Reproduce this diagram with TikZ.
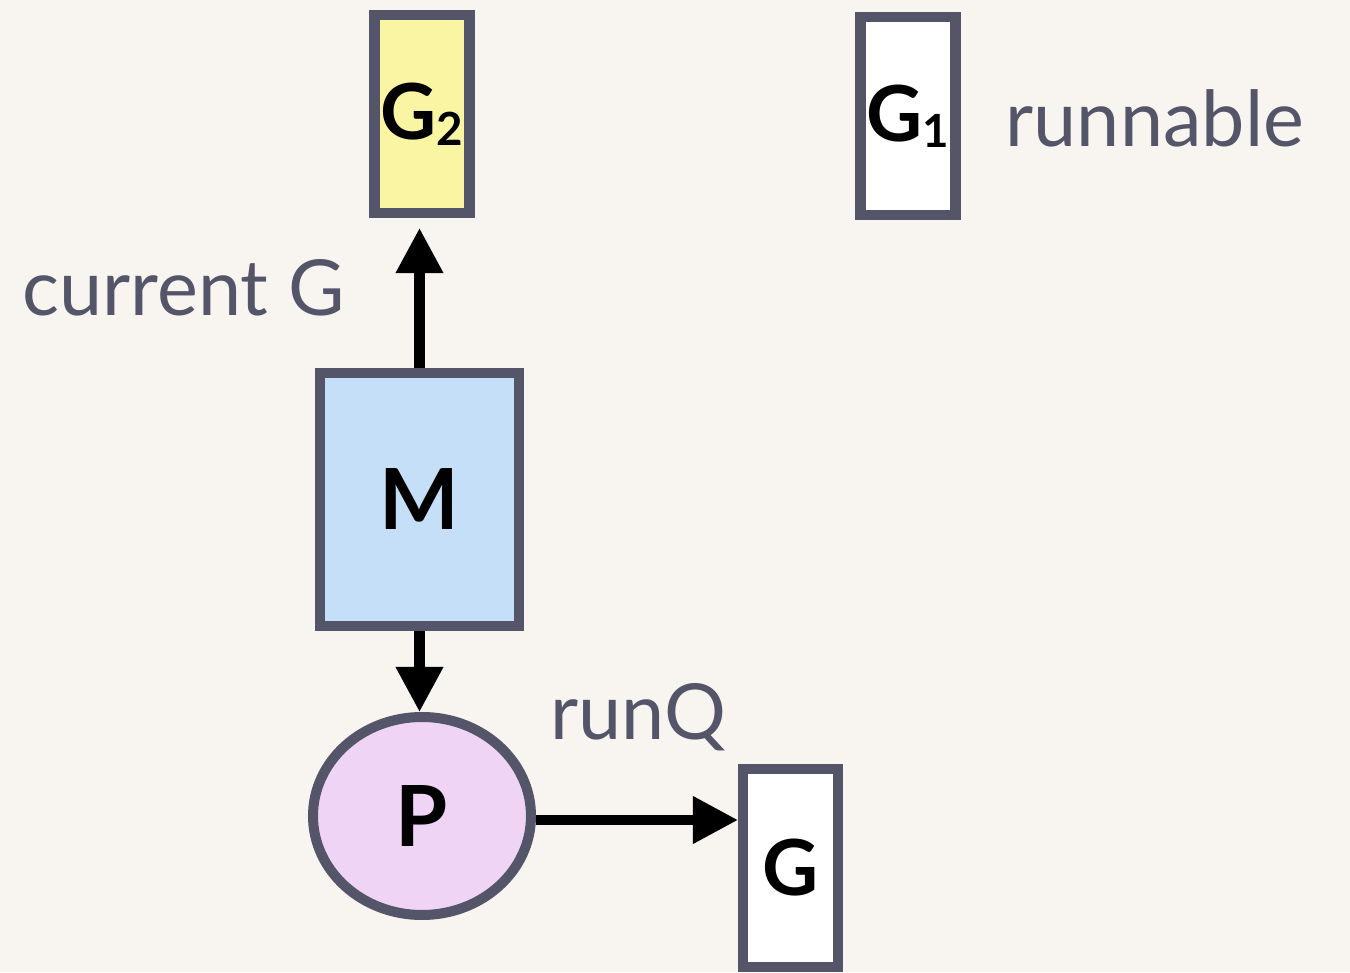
\documentclass[tikz,border=0pt]{standalone}
\usepackage{fontspec}
\setmainfont{Lato}
\usetikzlibrary{arrows.meta,shapes.geometric}
\definecolor{bgcol}{RGB}{248,245,240}
\definecolor{edgecol}{RGB}{85,85,105}
\definecolor{gyellow}{RGB}{249,245,163}
\definecolor{mblue}{RGB}{197,223,248}
\definecolor{ppink}{RGB}{240,212,246}
\newcommand{\lowsub}[1]{\raisebox{-0.15ex}{\fontsize{13}{13}\selectfont #1}}
\begin{document}
\begin{tikzpicture}[
  font=\fontsize{22}{26}\selectfont\bfseries,
  gbox/.style={draw=edgecol, line width=2.85pt, fill=white, inner sep=0pt, minimum width=0.95cm, minimum height=1.98cm},
  mbox/.style={draw=edgecol, line width=2.85pt, fill=mblue, inner sep=0pt, minimum width=1.99cm, minimum height=2.53cm, font=\fontsize{24}{28}\selectfont\bfseries},
  pnode/.style={draw=edgecol, line width=2.85pt, fill=ppink, ellipse, inner sep=0pt, minimum width=2.18cm, minimum height=1.98cm, font=\fontsize{24}{28}\selectfont\bfseries},
  lbl/.style={text=edgecol, inner sep=0pt, anchor=base west, font=\fontsize{22}{26}\selectfont},
  link/.style={line width=2.85pt, -{Triangle[width=0.45cm,length=0.45cm]}}
]
  \useasboundingbox[fill=bgcol] (0,0) rectangle (13.5,9.72);
  \node[gbox, fill=gyellow] (g2) at (4.22,8.58) {G\lowsub{2}};
  \node[gbox] (g1) at (9.08,8.56) {G\lowsub{1}};
  \node[mbox] (m) at (4.195,4.725) {M};
  \node[pnode] (p) at (4.22,1.56) {P};
  \node[gbox] (g) at (7.905,1.04) {G};
  \node[lbl] (run) at (10.05,8.25) {runnable};
  \node[lbl] (cur) at (0.22,6.56) {current G};
  \node[lbl] (rq)  at (5.5,2.32)  {runQ};
  \draw[link] (m.north) -- ([yshift=-0.1cm]m.north |- g2.south);
  \draw[link] (m.south) -- (m.south |- p.north);
  \draw[link] (p.east |- 0,1.52) -- (g.west |- 0,1.52);
\end{tikzpicture}
\end{document}
